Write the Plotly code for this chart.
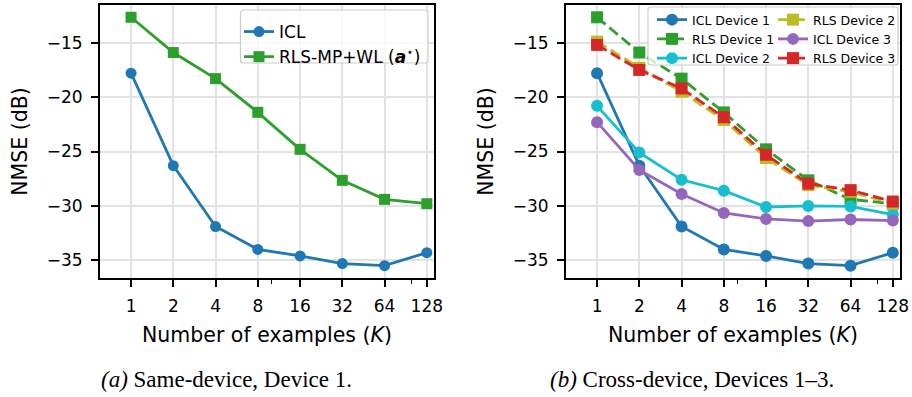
import math
import plotly.graph_objects as go

# ---------------- data ----------------
K = [1, 2, 4, 8, 16, 32, 64, 128]
k_ticktext = ["1", "2", "4", "8", "16", "32", "64", "128"]

icl_dev1 = [-17.8, -26.3, -31.9, -34.0, -34.6, -35.3, -35.5, -34.3]
rls_dev1 = [-12.66, -15.9, -18.3, -21.4, -24.8, -27.65, -29.4, -29.8]
icl_dev2 = [-20.8, -25.1, -27.6, -28.6, -30.1, -30.0, -30.05, -30.8]
rls_dev2 = [-14.9, -17.3, -19.5, -22.1, -25.6, -28.1, -28.7, -29.8]
icl_dev3 = [-22.3, -26.7, -28.9, -30.65, -31.2, -31.4, -31.25, -31.35]
rls_dev3 = [-15.2, -17.5, -19.2, -21.85, -25.3, -27.95, -28.55, -29.6]

y_ticks = [-35, -30, -25, -20, -15]
minor_x = [10, 100]

# ---------------- style ----------------
W, H = 912, 397
BLUE, GREEN, CYAN, OLIVE, PURPLE, RED = "#1f77b4", "#2ca02c", "#17becf", "#bcbd22", "#9467bd", "#d62728"
SANS = "DejaVu Sans"
SERIF = "Liberation Serif"
LW = 2.8
DASH = "11px,5px"


def px_x(p):
    return p / W


def px_y(p):
    return 1 - p / H


fig = go.Figure()

# left panel
fig.add_trace(go.Scatter(x=K, y=icl_dev1, mode="lines+markers", name="ICL",
                         line=dict(color=BLUE, width=LW), marker=dict(symbol="circle", size=11, color=BLUE),
                         xaxis="x", yaxis="y", legend="legend"))
fig.add_trace(go.Scatter(x=K, y=rls_dev1, mode="lines+markers",
                         name="RLS-MP+WL (<b><i>a</i></b><sup>⋆</sup>)",
                         line=dict(color=GREEN, width=LW), marker=dict(symbol="square", size=11, color=GREEN),
                         xaxis="x", yaxis="y", legend="legend"))

# right panel
right = [
    ("ICL Device 1", icl_dev1, BLUE, "circle", "solid", "legend2"),
    ("RLS Device 1", rls_dev1, GREEN, "square", DASH, "legend2"),
    ("ICL Device 2", icl_dev2, CYAN, "circle", "solid", "legend2"),
    ("RLS Device 2", rls_dev2, OLIVE, "square", DASH, "legend3"),
    ("ICL Device 3", icl_dev3, PURPLE, "circle", "solid", "legend3"),
    ("RLS Device 3", rls_dev3, RED, "square", DASH, "legend3"),
]
for name, vals, col, sym, dash, leg in right:
    fig.add_trace(go.Scatter(x=K, y=vals, mode="lines+markers", name=name,
                             line=dict(color=col, width=LW, dash=dash),
                             marker=dict(symbol=sym, size=12, color=col),
                             xaxis="x2", yaxis="y2", legend=leg))

xrange_log = [math.log10(2 ** -0.735), math.log10(2 ** 7.17)]
yrange = [-36.63, -11.53]

xcommon = dict(type="log", range=xrange_log, tickmode="array", tickvals=K, ticktext=k_ticktext,
               showline=True, linecolor="black", linewidth=1.8, mirror=True,
               ticks="outside", ticklen=7, tickwidth=1.5, tickcolor="black", ticklabelstandoff=5,
               showgrid=True, gridcolor="#e2e2e2", gridwidth=1.5, zeroline=False,
               tickfont=dict(family=SANS, size=17, color="black"),
               minor=dict(tickmode="array", tickvals=minor_x, ticks="outside", ticklen=4,
                          tickwidth=1.2, tickcolor="black", showgrid=False),
               title=dict(text="Number of examples (<i>K</i>)", font=dict(family=SANS, size=20.5, color="black"),
                          standoff=12),
               automargin=False)
ycommon = dict(range=yrange, tickmode="array", tickvals=y_ticks,
               showline=True, linecolor="black", linewidth=1.8, mirror=True,
               ticks="outside", ticklen=7, tickwidth=1.5, tickcolor="black", ticklabelstandoff=5,
               showgrid=True, gridcolor="#e2e2e2", gridwidth=1.5, zeroline=False,
               tickfont=dict(family=SANS, size=17, color="black"),
               title=dict(text="NMSE (dB)", font=dict(family=SANS, size=20.5, color="black"), standoff=14),
               automargin=False)

fig.update_layout(
    width=W, height=H, margin=dict(l=0, r=0, t=0, b=0),
    paper_bgcolor="white", plot_bgcolor="white",
    xaxis=dict(domain=[px_x(100), px_x(434)], anchor="y", **xcommon),
    yaxis=dict(domain=[px_y(278), px_y(5)], anchor="x", **ycommon),
    xaxis2=dict(domain=[px_x(566), px_x(900)], anchor="y2", **xcommon),
    yaxis2=dict(domain=[px_y(278), px_y(5)], anchor="x2", **ycommon),
    legend=dict(x=px_x(239), y=px_y(14), xanchor="left", yanchor="top", bgcolor="rgba(0,0,0,0)",
                borderwidth=0, font=dict(family=SANS, size=17, color="black"), tracegroupgap=0),
    legend2=dict(x=px_x(652), y=px_y(5), xanchor="left", yanchor="top", bgcolor="rgba(0,0,0,0)",
                 borderwidth=0, font=dict(family=SANS, size=12.5, color="black"), tracegroupgap=0),
    legend3=dict(x=px_x(773), y=px_y(5), xanchor="left", yanchor="top", bgcolor="rgba(0,0,0,0)",
                 borderwidth=0, font=dict(family=SANS, size=12.5, color="black"), tracegroupgap=0),
    showlegend=True,
)


def rounded_box(x0, y0, x1, y1, r=3):
    X0, X1 = px_x(x0), px_x(x1)
    Y0, Y1 = px_y(y0), px_y(y1)
    rx, ry = r / W, r / H
    return (f"M{X0 + rx},{Y0} L{X1 - rx},{Y0} Q{X1},{Y0} {X1},{Y0 - ry} "
            f"L{X1},{Y1 + ry} Q{X1},{Y1} {X1 - rx},{Y1} L{X0 + rx},{Y1} Q{X0},{Y1} {X0},{Y1 + ry} "
            f"L{X0},{Y0 - ry} Q{X0},{Y0} {X0 + rx},{Y0} Z")


for box in [(240.5, 10, 428, 63), (648, 7, 898, 65)]:
    fig.add_shape(type="path", path=rounded_box(*box), xref="paper", yref="paper",
                  fillcolor="rgba(255,255,255,0.8)", line=dict(color="#cccccc", width=1.2), layer="above")

captions = [("<i>(a)</i> Same-device, Device 1.", 226), ("<i>(b)</i> Cross-device, Devices 1–3.", 692)]
for text, cx in captions:
    fig.add_annotation(text=text, x=px_x(cx), y=px_y(379), xref="paper", yref="paper",
                       showarrow=False, xanchor="center", yanchor="middle",
                       font=dict(family=SERIF, size=23, color="black"))

fig.write_html("out.html")
